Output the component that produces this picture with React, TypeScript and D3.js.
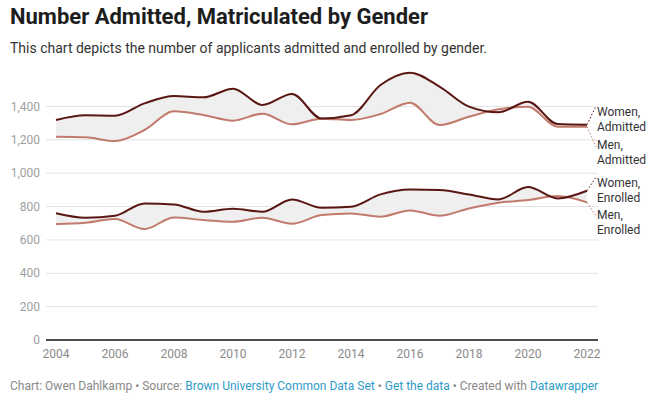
import * as d3 from 'd3';
import { useEffect, useRef } from 'react';

const years = [2004, 2005, 2006, 2007, 2008, 2009, 2010, 2011, 2012, 2013, 2014, 2015, 2016, 2017, 2018, 2019, 2020, 2021, 2022];
const womenAdmitted = [1319, 1347, 1345, 1419, 1463, 1455, 1507, 1409, 1475, 1328, 1347, 1529, 1603, 1519, 1399, 1365, 1429, 1295, 1291];
const menAdmitted = [1219, 1215, 1193, 1259, 1371, 1349, 1315, 1357, 1293, 1327, 1319, 1355, 1423, 1289, 1339, 1383, 1399, 1279, 1279];
const womenEnrolled = [760, 733, 745, 819, 813, 769, 787, 769, 843, 793, 799, 873, 903, 899, 873, 843, 917, 849, 895];
const menEnrolled = [695, 703, 725, 665, 735, 719, 709, 733, 697, 749, 759, 739, 777, 745, 789, 823, 839, 863, 825];
const yTicks = [0, 200, 400, 600, 800, 1000, 1200, 1400];
const xTicks = [2004, 2006, 2008, 2010, 2012, 2014, 2016, 2018, 2020, 2022];

const dark = '#5a1613';
const light = '#c17a6c';

const App = () => {
  const ref = useRef<SVGSVGElement | null>(null);

  useEffect(() => {
    const width = 653;
    const height = 403;
    const svg = d3.select(ref.current).attr('width', width).attr('height', height);
    svg.selectAll('*').remove();
    const font = 'Roboto, sans-serif';

    const x = d3.scaleLinear().domain([2004, 2022]).range([56, 587]);
    const y = d3.scaleLinear().domain([0, 1400]).range([340, 106.5]);

    // title + subtitle
    svg.append('text').attr('x', 10).attr('y', 24).attr('font-family', font).attr('font-size', 22)
      .attr('font-weight', 700).attr('fill', '#1d1d1d').text('Number Admitted, Matriculated by Gender');
    svg.append('text').attr('x', 10).attr('y', 53).attr('font-family', font).attr('font-size', 14)
      .attr('fill', '#333').text('This chart depicts the number of applicants admitted and enrolled by gender.');

    // grid
    const g = svg.append('g');
    yTicks.forEach((t) => {
      g.append('line').attr('x1', 46).attr('x2', 598).attr('y1', y(t)).attr('y2', y(t))
        .attr('stroke', t === 0 ? '#111' : '#e3e3e3').attr('stroke-width', t === 0 ? 1.5 : 1);
      g.append('text').attr('x', 40).attr('y', y(t)).attr('dy', '0.35em').attr('text-anchor', 'end')
        .attr('font-family', font).attr('font-size', 12).attr('fill', '#a0a0a0').text(d3.format(',')(t));
    });
    xTicks.forEach((t) => {
      g.append('text').attr('x', x(t)).attr('y', 358).attr('text-anchor', 'middle')
        .attr('font-family', font).attr('font-size', 12).attr('fill', '#8a8a8a').text(t);
    });

    const pairs = [
      { top: womenAdmitted, bot: menAdmitted },
      { top: womenEnrolled, bot: menEnrolled },
    ];

    pairs.forEach((p) => {
      const area = d3.area<number>()
        .x((_, i) => x(years[i]))
        .y0((_, i) => y(p.bot[i]))
        .y1((d) => y(d))
        .curve(d3.curveMonotoneX);
      g.append('path').attr('d', area(p.top)).attr('fill', '#efefef');
    });

    const line = d3.line<number>()
      .x((_, i) => x(years[i]))
      .y((d) => y(d))
      .curve(d3.curveMonotoneX);

    pairs.forEach((p) => {
      g.append('path').attr('d', line(p.bot)).attr('fill', 'none').attr('stroke', light).attr('stroke-width', 2);
      g.append('path').attr('d', line(p.top)).attr('fill', 'none').attr('stroke', dark).attr('stroke-width', 2);
    });

    // direct labels
    const labels = [
      { v: womenAdmitted[18], ly: 106, lines: ['Women,', 'Admitted'], color: dark, ty: 112 },
      { v: menAdmitted[18], ly: 147, lines: ['Men,', 'Admitted'], color: light, ty: 145 },
      { v: womenEnrolled[18], ly: 177, lines: ['Women,', 'Enrolled'], color: dark, ty: 183 },
      { v: menEnrolled[18], ly: 216, lines: ['Men,', 'Enrolled'], color: light, ty: 215 },
    ];
    labels.forEach((l) => {
      g.append('line').attr('x1', x(2022)).attr('y1', y(l.v)).attr('x2', 596).attr('y2', l.ly)
        .attr('stroke', l.color).attr('stroke-width', 1).attr('stroke-dasharray', '1.5,2');
      l.lines.forEach((s, i) => {
        g.append('text').attr('x', 597).attr('y', l.ty + i * 14.5).attr('dy', '0.35em')
          .attr('font-family', font).attr('font-size', 12).attr('fill', '#333').text(s);
      });
    });

    // footer
    const foot = svg.append('text').attr('x', 10).attr('y', 390).attr('font-family', font).attr('font-size', 12).attr('fill', '#888');
    const parts: [string, boolean][] = [
      ['Chart: Owen Dahlkamp • Source: ', false],
      ['Brown University Common Data Set', true],
      [' • ', false],
      ['Get the data', true],
      [' • Created with ', false],
      ['Datawrapper', true],
    ];
    parts.forEach(([s, link]) => {
      foot.append('tspan').attr('fill', link ? '#2f9bc7' : '#888').text(s);
    });
  }, []);

  return <svg ref={ref} style={{ position: 'absolute', left: 0, top: 0 }}></svg>;
};

export default App;
